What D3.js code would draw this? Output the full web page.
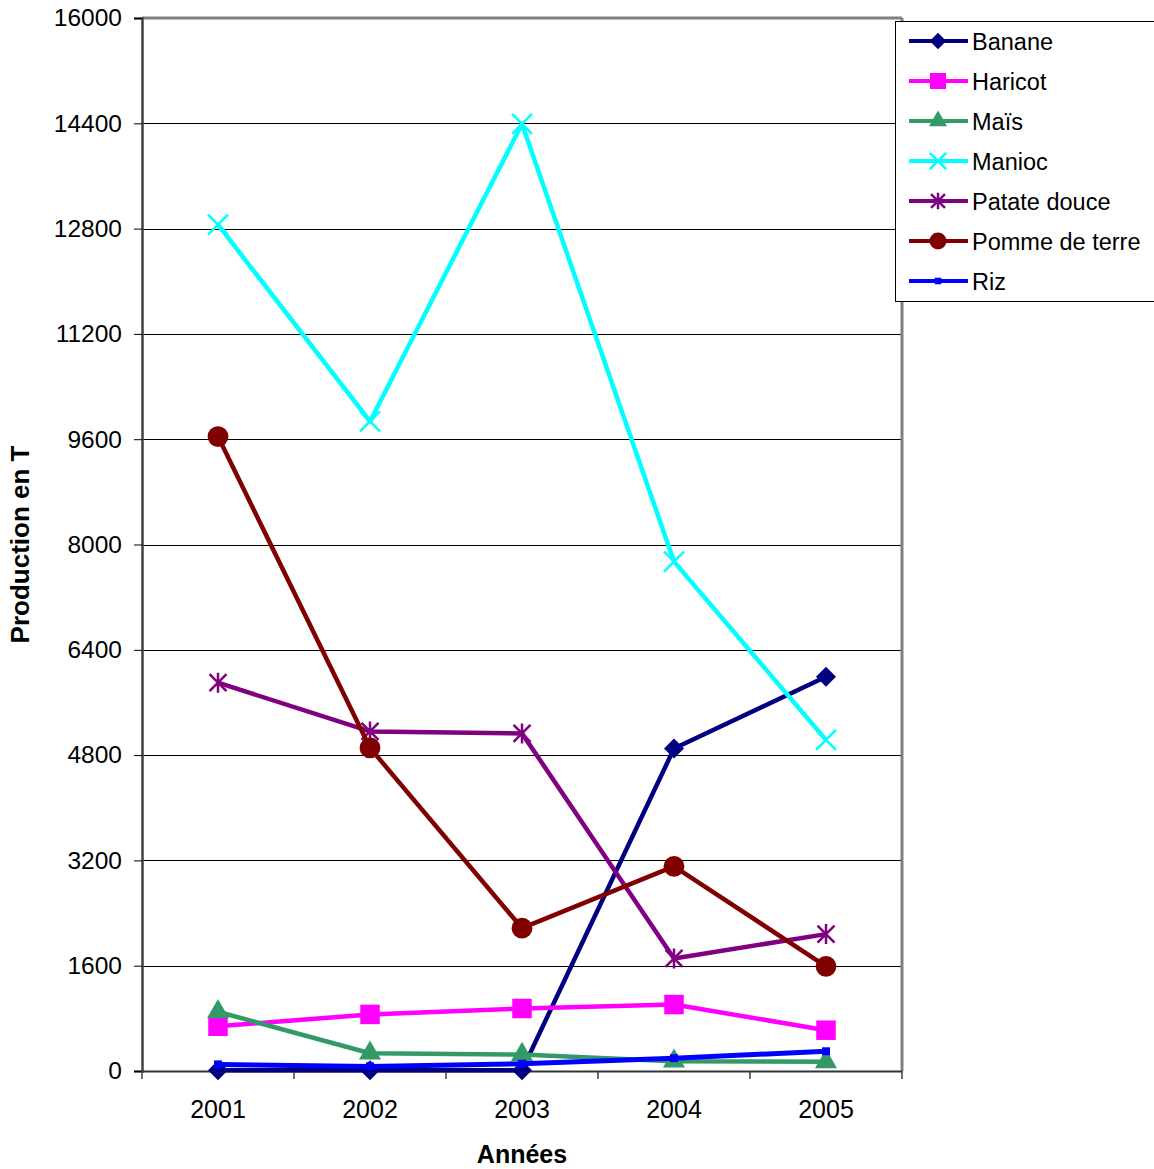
<!DOCTYPE html>
<html>
<head>
<meta charset="utf-8">
<script src="https://cdn.jsdelivr.net/npm/d3@7"></script>
<style>
  body { margin: 0; background: #fff; }
  text { font-family: "Liberation Sans", Arial, sans-serif; }
</style>
</head>
<body>
<svg id="chart"></svg>
<script>
// data
let years = ['2001', '2002', '2003', '2004', '2005']
let yTicks = [0, 1600, 3200, 4800, 6400, 8000, 9600, 11200, 12800, 14400, 16000]

let seriesNames = ['Banane', 'Haricot', 'Maïs', 'Manioc', 'Patate douce', 'Pomme de terre', 'Riz']
let banane = [10, 10, 10, 4900, 5990]
let haricot = [680, 860, 950, 1010, 620]
let mais = [900, 270, 250, 150, 140]
let manioc = [12860, 9870, 14390, 7740, 5030]
let patateDouce = [5900, 5160, 5130, 1710, 2080]
let pommeDeTerre = [9640, 4910, 2170, 3110, 1590]
let riz = [100, 70, 110, 195, 300]

let seriesValues = [banane, haricot, mais, manioc, patateDouce, pommeDeTerre, riz]
let seriesColors = ['#000080', '#FF00FF', '#339966', '#00FFFF', '#800080', '#800000', '#0000FF']
let seriesMarkers = ['diamond', 'square', 'triangle', 'x', 'star', 'circle', 'smallsquare']

let width = 1154
let height = 1169
let plotLeft = 142
let plotRight = 902
let plotTop = 18
let plotBottom = 1071

let svg = d3.select('#chart')
  .attr('width', width)
  .attr('height', height)

let xScale = d3.scaleBand()
  .domain(years)
  .range([plotLeft, plotRight])

let yScale = d3.scaleLinear()
  .domain([0, 16000])
  .range([plotBottom, plotTop])

// marker path centred on 0,0
let markerPath = (type, k) => {
  if (type === 'diamond') return d3.symbol(d3.symbolSquare, 200 * k * k)()
  if (type === 'square') return d3.symbol(d3.symbolSquare, 380 * k * k)()
  if (type === 'smallsquare') return d3.symbol(d3.symbolSquare, 64 * k * k)()
  if (type === 'triangle') return d3.symbol(d3.symbolTriangle, 210 * k * k)()
  if (type === 'circle') return d3.symbol(d3.symbolCircle, 340 * k * k)()
  let r = 10 * k
  if (type === 'x') {
    return 'M' + (-r) + ',' + (-r) + 'L' + r + ',' + r + 'M' + (-r) + ',' + r + 'L' + r + ',' + (-r)
  }
  // star: x plus vertical bar
  let s = r * 0.85
  return 'M' + (-s) + ',' + (-s) + 'L' + s + ',' + s + 'M' + (-s) + ',' + s + 'L' + s + ',' + (-s) +
    'M0,' + (-r) + 'L0,' + r
}

let isStroked = (type) => type === 'x' || type === 'star'

let drawMarker = (g, type, color, k) => {
  let p = g.append('path')
    .attr('d', markerPath(type, k))
  if (type === 'diamond') p.attr('transform', 'rotate(45)')
  if (isStroked(type)) {
    p.attr('fill', 'none').attr('stroke', color).attr('stroke-width', 2.5)
  } else {
    p.attr('fill', color)
  }
}

// gridlines
svg.append('g')
  .selectAll('line')
  .data(yTicks.filter(t => t > 0 && t < 16000))
  .enter()
  .append('line')
  .attr('x1', plotLeft)
  .attr('x2', plotRight)
  .attr('y1', d => Math.round(yScale(d)) + 0.5)
  .attr('y2', d => Math.round(yScale(d)) + 0.5)
  .attr('stroke', '#000')
  .attr('stroke-width', 1)

// plot frame (top and right)
svg.append('line')
  .attr('x1', plotLeft).attr('x2', plotRight)
  .attr('y1', plotTop).attr('y2', plotTop)
  .attr('stroke', '#808080').attr('stroke-width', 3)
svg.append('line')
  .attr('x1', plotRight).attr('x2', plotRight)
  .attr('y1', plotTop).attr('y2', plotBottom)
  .attr('stroke', '#808080').attr('stroke-width', 3)

// y axis
let yAxis = d3.axisLeft(yScale)
  .tickValues(yTicks)
  .tickSize(8)
  .tickPadding(12)
  .tickFormat(d3.format('d'))

let yAxisG = svg.append('g')
  .attr('id', 'y-axis')
  .attr('transform', 'translate(' + plotLeft + ',0)')
  .call(yAxis)
yAxisG.select('.domain').attr('stroke', '#404040').attr('stroke-width', 2.5)
yAxisG.selectAll('.tick line').attr('stroke', '#000')
yAxisG.selectAll('.tick text')
  .attr('font-size', 24.5)
  .attr('fill', '#000')
  .style('font-family', '"Liberation Sans", Arial, sans-serif')

// x axis, ticks on category boundaries
let xAxis = d3.axisBottom(xScale)
  .tickSize(0)
  .tickPadding(29)

let xAxisG = svg.append('g')
  .attr('id', 'x-axis')
  .attr('transform', 'translate(0,' + plotBottom + ')')
  .call(xAxis)
xAxisG.select('.domain').attr('stroke', '#333').attr('stroke-width', 2)
xAxisG.selectAll('.tick text')
  .attr('font-size', 25)
  .attr('fill', '#000')
  .style('font-family', '"Liberation Sans", Arial, sans-serif')

let boundaries = years.map(y => xScale(y)).concat([plotRight])
xAxisG.selectAll('.bound')
  .data(boundaries)
  .enter()
  .append('line')
  .attr('class', 'bound')
  .attr('x1', d => d)
  .attr('x2', d => d)
  .attr('y1', 0)
  .attr('y2', 8)
  .attr('stroke', '#404040')
  .attr('stroke-width', 1.5)

// axis titles
svg.append('text')
  .attr('x', (plotLeft + plotRight) / 2)
  .attr('y', 1163)
  .attr('text-anchor', 'middle')
  .attr('font-size', 25)
  .attr('font-weight', 'bold')
  .text('Années')

svg.append('text')
  .attr('transform', 'translate(29,' + ((plotTop + plotBottom) / 2) + ') rotate(-90)')
  .attr('text-anchor', 'middle')
  .attr('font-size', 26)
  .attr('font-weight', 'bold')
  .text('Production en T')

// series
let line = d3.line()
  .x((d, i) => xScale(years[i]) + xScale.bandwidth() / 2)
  .y(d => yScale(d))

seriesNames.forEach((name, s) => {
  let g = svg.append('g').attr('class', 'series')
  g.append('path')
    .datum(seriesValues[s])
    .attr('d', line)
    .attr('fill', 'none')
    .attr('stroke', seriesColors[s])
    .attr('stroke-width', s === 6 ? 5 : 4.5)
    .attr('stroke-linejoin', 'round')
  seriesValues[s].forEach((v, i) => {
    let m = g.append('g')
      .attr('transform', 'translate(' + (xScale(years[i]) + xScale.bandwidth() / 2) + ',' + yScale(v) + ')')
    drawMarker(m, seriesMarkers[s], seriesColors[s], 1)
  })
})

// legend
let legend = svg.append('g')
  .attr('id', 'legend')
  .attr('transform', 'translate(895,21)')

legend.append('rect')
  .attr('x', 0.5)
  .attr('y', 0.5)
  .attr('width', 270)
  .attr('height', 280)
  .attr('fill', '#fff')
  .attr('stroke', '#000')
  .attr('stroke-width', 1)

seriesNames.forEach((name, s) => {
  let row = legend.append('g')
    .attr('transform', 'translate(0,' + (20 + s * 40) + ')')
  row.append('line')
    .attr('x1', 14)
    .attr('x2', 73)
    .attr('stroke', seriesColors[s])
    .attr('stroke-width', 4)
  let m = row.append('g').attr('transform', 'translate(43,0)')
  drawMarker(m, seriesMarkers[s], seriesColors[s], 0.82)
  row.append('text')
    .attr('x', 77)
    .attr('y', 8.5)
    .attr('font-size', 23.5)
    .attr('fill', '#000')
    .text(name)
})
</script>
</body>
</html>
